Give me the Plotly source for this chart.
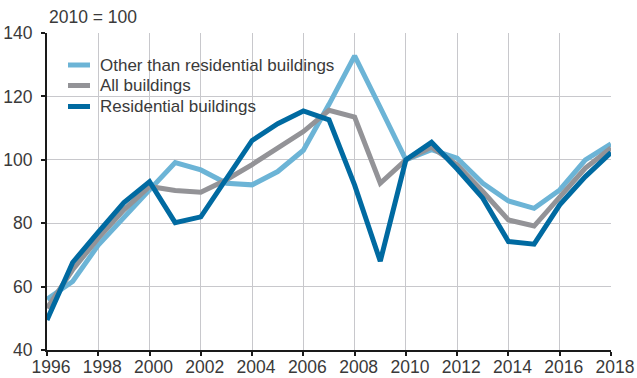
import plotly.graph_objects as go

# Construction output index, 2010 = 100
years = list(range(1996, 2019))

other_than_residential = [56.0, 61.6, 73.1, 82.0, 90.5, 99.1, 96.8, 92.6, 92.1, 96.3, 103.0,
                          117.5, 132.8, 116.5, 100.0, 103.2, 100.5, 92.6, 87.0, 84.7, 90.5,
                          100.0, 105.0]
all_buildings = [53.2, 65.3, 75.3, 84.2, 91.6, 90.3, 89.8, 93.7, 98.5, 103.5, 108.9,
                 115.6, 113.5, 92.6, 100.0, 104.0, 98.4, 90.0, 81.0, 79.1, 88.4,
                 97.4, 103.7]
residential = [49.5, 67.6, 77.2, 86.5, 93.1, 80.2, 82.0, 94.0, 106.1, 111.4, 115.4,
               112.6, 92.0, 68.0, 100.0, 105.5, 97.1, 87.9, 74.2, 73.4, 85.8,
               94.7, 102.3]

series = [
    ("Other than residential buildings", other_than_residential, "#6cb4d6"),
    ("All buildings", all_buildings, "#939397"),
    ("Residential buildings", residential, "#006aa1"),
]

FONT = "Liberation Sans, Arial, Helvetica, sans-serif"
TEXT = "#3a3a3a"
W, H = 637, 378
M = dict(l=47, r=26, t=33, b=28)
PW, PH = W - M["l"] - M["r"], H - M["t"] - M["b"]


def px_x(px):
    return (px - M["l"]) / PW


def px_y(py):
    return 1 - (py - M["t"]) / PH


fig = go.Figure()
for name, values, color in series:
    fig.add_trace(go.Scatter(
        x=years, y=values, name=name, mode="lines",
        line=dict(color=color, width=5),
        hoverinfo="skip", showlegend=False,
    ))

# compact legend: short colour swatch plus label for each series
shapes, annotations = [], []
row_y = [65, 85.5, 106.5]
for (name, _, color), ry in zip(series, row_y):
    shapes.append(dict(
        type="line", xref="paper", yref="paper",
        x0=px_x(68), x1=px_x(90), y0=px_y(ry), y1=px_y(ry),
        line=dict(color=color, width=5),
    ))
    annotations.append(dict(
        text=name, xref="paper", yref="paper", x=px_x(98), y=px_y(ry),
        xanchor="left", yanchor="middle", showarrow=False,
        font=dict(family=FONT, size=17, color=TEXT),
    ))

annotations.append(dict(
    text="2010 = 100", xref="paper", yref="paper", x=0, y=1,
    xanchor="left", yanchor="middle", yshift=16,
    showarrow=False, font=dict(family=FONT, size=17.5, color=TEXT),
))

axis_common = dict(
    showgrid=True, gridcolor="#c8c8cc", gridwidth=1,
    showline=True, linecolor="#1a1a1a", linewidth=2,
    ticks="outside", ticklen=4, tickwidth=1.5, tickcolor="#1a1a1a",
    tickfont=dict(family=FONT, size=17.5, color=TEXT),
    zeroline=False, fixedrange=True, automargin=False,
)

fig.update_layout(
    width=W, height=H, margin=M,
    paper_bgcolor="white", plot_bgcolor="white",
    font=dict(family=FONT, size=17, color=TEXT),
    xaxis=dict(range=[1996, 2018], tickmode="linear", tick0=1996, dtick=2,
               ticklabelshift=4, ticklabelstandoff=-4, **axis_common),
    yaxis=dict(range=[40, 140], tickmode="linear", tick0=40, dtick=20,
               ticklabelstandoff=5, **axis_common),
    shapes=shapes,
    annotations=annotations,
)

fig.write_html("out.html")
